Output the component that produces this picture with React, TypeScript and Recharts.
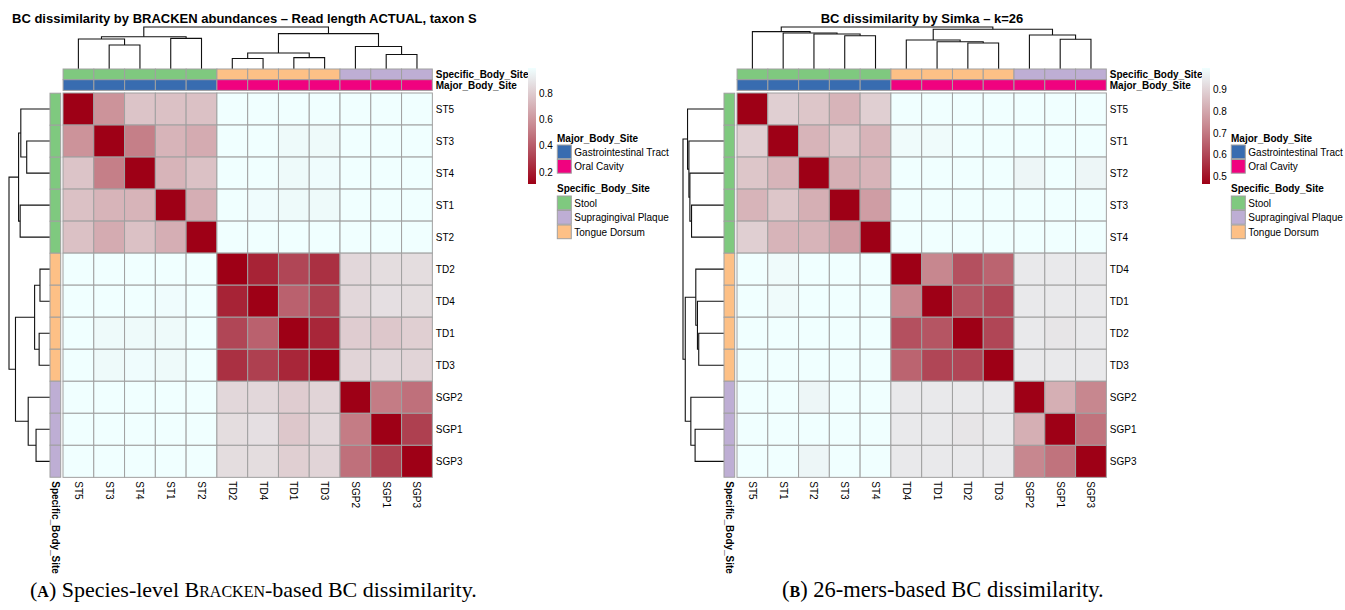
import React from 'react';
import { ScatterChart, Scatter, XAxis, YAxis, BarChart, Bar } from 'recharts';

// sample order (rows = columns) after clustering
const BRACKEN_ORDER = ['ST5', 'ST3', 'ST4', 'ST1', 'ST2', 'TD2', 'TD4', 'TD1', 'TD3', 'SGP2', 'SGP1', 'SGP3'];
const SIMKA_ORDER = ['ST5', 'ST1', 'ST2', 'ST3', 'ST4', 'TD4', 'TD1', 'TD2', 'TD3', 'SGP2', 'SGP1', 'SGP3'];

// BC dissimilarity
const BRACKEN_BC = [
  [0, 0.59, 0.77, 0.76, 0.76, 0.99, 0.99, 0.99, 0.99, 0.99, 0.99, 0.99],
  [0.59, 0, 0.52, 0.71, 0.68, 0.99, 0.99, 0.97, 0.97, 0.99, 0.99, 0.99],
  [0.77, 0.52, 0, 0.71, 0.76, 0.99, 0.99, 0.97, 0.98, 0.99, 0.99, 0.99],
  [0.76, 0.71, 0.71, 0, 0.69, 0.99, 0.98, 0.97, 0.97, 0.99, 0.99, 0.99],
  [0.76, 0.68, 0.76, 0.69, 0, 0.99, 0.99, 0.99, 0.99, 0.99, 0.99, 0.99],
  [0.99, 0.99, 0.99, 0.99, 0.99, 0, 0.22, 0.33, 0.26, 0.84, 0.86, 0.86],
  [0.99, 0.99, 0.99, 0.98, 0.99, 0.22, 0, 0.42, 0.31, 0.84, 0.87, 0.86],
  [0.99, 0.97, 0.97, 0.97, 0.99, 0.33, 0.42, 0, 0.23, 0.8, 0.78, 0.81],
  [0.99, 0.97, 0.98, 0.97, 0.99, 0.26, 0.31, 0.23, 0, 0.83, 0.84, 0.83],
  [0.99, 0.99, 0.99, 0.99, 0.99, 0.84, 0.84, 0.8, 0.83, 0, 0.51, 0.47],
  [0.99, 0.99, 0.99, 0.99, 0.99, 0.86, 0.87, 0.78, 0.84, 0.51, 0, 0.31],
  [0.99, 0.99, 0.99, 0.99, 0.99, 0.86, 0.86, 0.81, 0.83, 0.47, 0.31, 0],
];

const SIMKA_BC = [
  [0, 0.89, 0.87, 0.83, 0.89, 1, 1, 1, 1, 1, 1, 1],
  [0.89, 0, 0.83, 0.87, 0.83, 0.99, 0.99, 1, 1, 1, 1, 1],
  [0.87, 0.83, 0, 0.82, 0.83, 1, 1, 1, 1, 0.98, 1, 0.98],
  [0.83, 0.87, 0.82, 0, 0.78, 1, 1, 1, 1, 1, 1, 1],
  [0.89, 0.83, 0.83, 0.78, 0, 1, 1, 1, 1, 1, 1, 1],
  [1, 0.99, 1, 1, 1, 0, 0.73, 0.62, 0.66, 0.95, 0.95, 0.95],
  [1, 0.99, 1, 1, 1, 0.73, 0, 0.63, 0.6, 0.95, 0.95, 0.95],
  [1, 1, 1, 1, 1, 0.62, 0.63, 0, 0.6, 0.95, 0.94, 0.95],
  [1, 1, 1, 1, 1, 0.66, 0.6, 0.6, 0, 0.95, 0.95, 0.95],
  [1, 1, 0.98, 1, 1, 0.95, 0.95, 0.95, 0.95, 0, 0.82, 0.73],
  [1, 1, 1, 1, 1, 0.95, 0.95, 0.94, 0.95, 0.82, 0, 0.69],
  [1, 1, 0.98, 1, 1, 0.95, 0.95, 0.95, 0.95, 0.73, 0.69, 0],
];

// hclust merges: [left, right, height]; strings are samples, numbers earlier merges
const BRACKEN_TREE: [string | number, string | number, number][] = [
  ['ST3', 'ST4', 0.571],
  ['ST5', 0, 0.714],
  ['ST1', 'ST2', 0.73],
  [1, 2, 0.768],
  ['TD2', 'TD4', 0.25],
  ['TD1', 'TD3', 0.27],
  [4, 5, 0.38],
  ['SGP1', 'SGP3', 0.345],
  ['SGP2', 7, 0.535],
  [6, 8, 0.843],
  [3, 9, 1.0],
];

const SIMKA_TREE: [string | number, string | number, number][] = [
  ['ST3', 'ST4', 0.793],
  ['ST2', 0, 0.833],
  ['ST1', 1, 0.857],
  ['ST5', 2, 0.89],
  ['TD2', 'TD3', 0.619],
  ['TD1', 4, 0.65],
  ['TD4', 5, 0.69],
  ['SGP1', 'SGP3', 0.707],
  ['SGP2', 7, 0.81],
  [6, 8, 0.945],
  [3, 9, 1.0],
];

const BRACKEN_RANGE = [0.11, 0.99];
const SIMKA_RANGE = [0.466, 1.0];
const BRACKEN_TICKS = [0.2, 0.4, 0.6, 0.8];
const SIMKA_TICKS = [0.5, 0.6, 0.7, 0.8, 0.9];

const ANNOTATIONS = ['Specific_Body_Site', 'Major_Body_Site'];
const SPECIFIC_SITES = ['Stool', 'Supragingival Plaque', 'Tongue Dorsum'];
const MAJOR_SITES = ['Gastrointestinal Tract', 'Oral Cavity'];
const SITE_OF_PREFIX: Record<string, string> = { ST: 'Stool', TD: 'Tongue Dorsum', SGP: 'Supragingival Plaque' };
const MAJOR_OF_SITE: Record<string, string> = {
  Stool: 'Gastrointestinal Tract',
  'Tongue Dorsum': 'Oral Cavity',
  'Supragingival Plaque': 'Oral Cavity',
};

const SPECIFIC_COLORS: Record<string, string> = {
  Stool: '#7fc97f',
  'Supragingival Plaque': '#beaed4',
  'Tongue Dorsum': '#fdc086',
};
const MAJOR_COLORS: Record<string, string> = {
  'Gastrointestinal Tract': '#386cb0',
  'Oral Cavity': '#f0027f',
};

const RAMP: [number, string][] = [
  [0, '#9e0016'],
  [0.25, '#b04656'],
  [0.5, '#c88890'],
  [0.75, '#dcc4c8'],
  [0.9, '#e8e8ea'],
  [1, '#f0ffff'],
];

// layout, relative to a panel's left edge
const N = 12;
const FONT = '"Liberation Sans", Arial, sans-serif';
const GRID = '#a0a0a0';
const LABEL_SIZE = 10;
const HM_X = 63.3;
const HM_Y = 93.3;
const CELL_W = 30.78;
const CELL_H = 32.03;
const HM_W = CELL_W * N;
const HM_H = CELL_H * N;
const DENDRO_TOP = 27;
const ANN_Y = 69;
const ANN_H = 10.7;
const DENDRO_LEFT = 9;
const ROW_ANN_X = 50.3;
const ROW_ANN_W = 10.7;
const BAR_X = 528;
const BAR_Y = 68;
const BAR_W = 8;
const BAR_H = 116;
const LEG_X = 557.3;
const PANEL_B_X = 674;
const PAD = 2;
const PADS = { top: PAD, right: PAD, bottom: PAD, left: PAD };
const CENTERS = Array.from({ length: N }, (_, i) => i + 0.5);

const hex = (h: string) => [1, 3, 5].map((k) => parseInt(h.slice(k, k + 2), 16));

function rampColor(t: number) {
  const u = Math.max(0, Math.min(1, t));
  for (let k = 1; k < RAMP.length; k++) {
    const [t1, c1] = RAMP[k];
    const [t0, c0] = RAMP[k - 1];
    if (u <= t1) {
      const f = (u - t0) / (t1 - t0);
      const a = hex(c0);
      const b = hex(c1);
      const rgb = a.map((v, i) => Math.round(v + (b[i] - v) * f));
      return `rgb(${rgb.join(',')})`;
    }
  }
  return RAMP[RAMP.length - 1][1];
}

const siteOf = (s: string) => SITE_OF_PREFIX[s.replace(/\d+$/, '')];

// U-shaped segments of a dendrogram, position in leaf units, height in tree units
function treeSegments(tree: [string | number, string | number, number][], order: string[]) {
  const nodes: { p: number; h: number }[] = [];
  const get = (r: string | number) => (typeof r === 'string' ? { p: order.indexOf(r) + 0.5, h: 0 } : nodes[r]);
  return tree.map(([l, r, h], i) => {
    const a = get(l);
    const b = get(r);
    nodes[i] = { p: (a.p + b.p) / 2, h };
    return [
      { p: a.p, h: a.h },
      { p: a.p, h },
      { p: b.p, h },
      { p: b.p, h: b.h },
    ];
  });
}

const noDot = () => <g />;

function Abs({ left, top, children }: { left: number; top: number; children: React.ReactNode }) {
  return <div style={{ position: 'absolute', left, top }}>{children}</div>;
}

function Heatmap({ order, dist, range }: { order: string[]; dist: number[][]; range: number[] }) {
  const cells = dist.flatMap((row, i) => row.map((v, j) => ({ x: j + 0.5, y: i + 0.5, v })));
  const labR = 40;
  const labB = 50;
  return (
    <ScatterChart width={HM_W + 2 * PAD + labR} height={HM_H + 2 * PAD + labB} margin={PADS}>
      <XAxis
        type="number"
        dataKey="x"
        domain={[0, N]}
        ticks={CENTERS}
        interval={0}
        height={labB}
        axisLine={false}
        tickLine={false}
        tickSize={0}
        tick={(p: any) => {
          const y = p.y + 2;
          return (
            <text
              x={p.x}
              y={y}
              transform={`rotate(90 ${p.x} ${y})`}
              fontSize={LABEL_SIZE}
              fontFamily={FONT}
              dominantBaseline="central"
              textAnchor="start"
            >
              {order[Math.floor(p.payload.value)]}
            </text>
          );
        }}
      />
      <YAxis
        type="number"
        dataKey="y"
        domain={[0, N]}
        reversed
        orientation="right"
        width={labR}
        ticks={CENTERS}
        interval={0}
        axisLine={false}
        tickLine={false}
        tickSize={0}
        tick={(p: any) => (
          <text
            x={p.x + 1.5}
            y={p.y}
            fontSize={LABEL_SIZE}
            fontFamily={FONT}
            dominantBaseline="central"
            textAnchor="start"
          >
            {order[Math.floor(p.payload.value)]}
          </text>
        )}
      />
      <Scatter
        data={cells}
        isAnimationActive={false}
        shape={(p: any) => (
          <rect
            x={p.cx - CELL_W / 2}
            y={p.cy - CELL_H / 2}
            width={CELL_W}
            height={CELL_H}
            fill={rampColor((p.payload.v - range[0]) / (range[1] - range[0]))}
            stroke={GRID}
            strokeWidth={1}
          />
        )}
      />
    </ScatterChart>
  );
}

function TopDendro({ order, tree }: { order: string[]; tree: [string | number, string | number, number][] }) {
  const segs = treeSegments(tree, order);
  const maxH = Math.max(...tree.map((t) => t[2]));
  return (
    <ScatterChart width={HM_W + 2 * PAD} height={ANN_Y - DENDRO_TOP + 2 * PAD} margin={PADS}>
      <XAxis type="number" dataKey="x" domain={[0, N]} hide />
      <YAxis type="number" dataKey="y" domain={[0, maxH]} hide />
      {segs.map((s, k) => (
        <Scatter
          key={k}
          data={s.map((q) => ({ x: q.p, y: q.h }))}
          line={{ stroke: '#111', strokeWidth: 1.1 }}
          lineType="joint"
          shape={noDot}
          isAnimationActive={false}
        />
      ))}
    </ScatterChart>
  );
}

function LeftDendro({ order, tree }: { order: string[]; tree: [string | number, string | number, number][] }) {
  const segs = treeSegments(tree, order);
  const maxH = Math.max(...tree.map((t) => t[2]));
  return (
    <ScatterChart width={ROW_ANN_X - DENDRO_LEFT + 2 * PAD} height={HM_H + 2 * PAD} margin={PADS}>
      <XAxis type="number" dataKey="x" domain={[0, maxH]} reversed hide />
      <YAxis type="number" dataKey="y" domain={[0, N]} reversed hide />
      {segs.map((s, k) => (
        <Scatter
          key={k}
          data={s.map((q) => ({ x: q.h, y: q.p }))}
          line={{ stroke: '#111', strokeWidth: 1.1 }}
          lineType="joint"
          shape={noDot}
          isAnimationActive={false}
        />
      ))}
    </ScatterChart>
  );
}

function ColAnnotation({ order }: { order: string[] }) {
  const cells = order.flatMap((s, j) => [
    { x: j + 0.5, y: 0.5, c: SPECIFIC_COLORS[siteOf(s)] },
    { x: j + 0.5, y: 1.5, c: MAJOR_COLORS[MAJOR_OF_SITE[siteOf(s)]] },
  ]);
  const labR = 110;
  return (
    <ScatterChart width={HM_W + 2 * PAD + labR} height={2 * ANN_H + 2 * PAD} margin={PADS}>
      <XAxis type="number" dataKey="x" domain={[0, N]} hide />
      <YAxis
        type="number"
        dataKey="y"
        domain={[0, 2]}
        reversed
        orientation="right"
        width={labR}
        ticks={[0.5, 1.5]}
        interval={0}
        axisLine={false}
        tickLine={false}
        tickSize={0}
        tick={(p: any) => (
          <text
            x={p.x + 1.5}
            y={p.y}
            fontSize={10}
            fontWeight="bold"
            fontFamily={FONT}
            dominantBaseline="central"
            textAnchor="start"
          >
            {ANNOTATIONS[Math.floor(p.payload.value)]}
          </text>
        )}
      />
      <Scatter
        data={cells}
        isAnimationActive={false}
        shape={(p: any) => (
          <rect
            x={p.cx - CELL_W / 2}
            y={p.cy - ANN_H / 2}
            width={CELL_W}
            height={ANN_H}
            fill={p.payload.c}
            stroke={GRID}
            strokeWidth={1}
          />
        )}
      />
    </ScatterChart>
  );
}

function RowAnnotation({ order }: { order: string[] }) {
  const cells = order.map((s, i) => ({ x: 0.5, y: i + 0.5, c: SPECIFIC_COLORS[siteOf(s)] }));
  const labB = 110;
  return (
    <ScatterChart width={ROW_ANN_W + 2 * PAD} height={HM_H + 2 * PAD + labB} margin={PADS}>
      <XAxis
        type="number"
        dataKey="x"
        domain={[0, 1]}
        ticks={[0.5]}
        interval={0}
        height={labB}
        axisLine={false}
        tickLine={false}
        tickSize={0}
        tick={(p: any) => {
          const y = p.y + 2;
          return (
            <text
              x={p.x}
              y={y}
              transform={`rotate(90 ${p.x} ${y})`}
              fontSize={10}
              fontWeight="bold"
              fontFamily={FONT}
              dominantBaseline="central"
              textAnchor="start"
            >
              {ANNOTATIONS[0]}
            </text>
          );
        }}
      />
      <YAxis type="number" dataKey="y" domain={[0, N]} reversed hide />
      <Scatter
        data={cells}
        isAnimationActive={false}
        shape={(p: any) => (
          <rect
            x={p.cx - ROW_ANN_W / 2}
            y={p.cy - CELL_H / 2}
            width={ROW_ANN_W}
            height={CELL_H}
            fill={p.payload.c}
            stroke={GRID}
            strokeWidth={1}
          />
        )}
      />
    </ScatterChart>
  );
}

function ColorBar({ id, range, ticks }: { id: string; range: number[]; ticks: number[] }) {
  return (
    <BarChart
      width={BAR_W + 30}
      height={BAR_H + 12}
      data={[{ name: 'scale', span: range }]}
      margin={{ top: 6, right: 0, bottom: 6, left: 0 }}
      barCategoryGap={0}
    >
      <defs>
        <linearGradient id={id} x1="0" y1="1" x2="0" y2="0">
          {RAMP.map(([t, c]) => (
            <stop key={t} offset={t} stopColor={c} />
          ))}
        </linearGradient>
      </defs>
      <XAxis dataKey="name" hide />
      <YAxis
        type="number"
        domain={range}
        ticks={ticks}
        interval={0}
        orientation="right"
        width={30}
        axisLine={false}
        tickLine={false}
        tickSize={0}
        tickMargin={3}
        tick={{ fontSize: 10, fill: '#000', fontFamily: FONT }}
      />
      <Bar dataKey="span" fill={`url(#${id})`} isAnimationActive={false} />
    </BarChart>
  );
}

function Panel(props: {
  x0: number;
  id: string;
  order: string[];
  dist: number[][];
  tree: [string | number, string | number, number][];
  range: number[];
  ticks: number[];
}) {
  const { x0, id, order, dist, tree, range, ticks } = props;
  return (
    <>
      <Abs left={x0 + HM_X - PAD} top={DENDRO_TOP - PAD}>
        <TopDendro order={order} tree={tree} />
      </Abs>
      <Abs left={x0 + DENDRO_LEFT - PAD} top={HM_Y - PAD}>
        <LeftDendro order={order} tree={tree} />
      </Abs>
      <Abs left={x0 + HM_X - PAD} top={ANN_Y - PAD}>
        <ColAnnotation order={order} />
      </Abs>
      <Abs left={x0 + ROW_ANN_X - PAD} top={HM_Y - PAD}>
        <RowAnnotation order={order} />
      </Abs>
      <Abs left={x0 + HM_X - PAD} top={HM_Y - PAD}>
        <Heatmap order={order} dist={dist} range={range} />
      </Abs>
      <Abs left={x0 + BAR_X} top={BAR_Y - 6}>
        <ColorBar id={id} range={range} ticks={ticks} />
      </Abs>
    </>
  );
}

function Legend({ x0 }: { x0: number }) {
  const sw = 14;
  const pitch = 14.5;
  const item = (label: string, color: string, top: number) => (
    <g key={label}>
      <rect x={x0 + LEG_X} y={top} width={sw} height={pitch - 0.8} fill={color} stroke={GRID} strokeWidth={1} />
      <text x={x0 + LEG_X + sw + 3} y={top + pitch / 2 + 3.3} fontSize={10} fontFamily={FONT}>
        {label}
      </text>
    </g>
  );
  return (
    <g>
      <text x={x0 + LEG_X - 0.3} y={141.5} fontSize={10} fontWeight="bold" fontFamily={FONT}>
        {ANNOTATIONS[1]}
      </text>
      {MAJOR_SITES.map((s, k) => item(s, MAJOR_COLORS[s], 145 + k * pitch))}
      <text x={x0 + LEG_X - 0.3} y={192.3} fontSize={10} fontWeight="bold" fontFamily={FONT}>
        {ANNOTATIONS[0]}
      </text>
      {SPECIFIC_SITES.map((s, k) => item(s, SPECIFIC_COLORS[s], 196 + k * pitch))}
    </g>
  );
}

export default function App() {
  const serif = '"Liberation Serif", "Times New Roman", serif';
  return (
    <div
      style={{
        position: 'absolute',
        left: 0,
        top: 0,
        width: 1345,
        height: 610,
        background: '#fff',
        fontFamily: FONT,
        overflow: 'hidden',
      }}
    >
      <Panel
        x0={0}
        id="grad-bracken"
        order={BRACKEN_ORDER}
        dist={BRACKEN_BC}
        tree={BRACKEN_TREE}
        range={BRACKEN_RANGE}
        ticks={BRACKEN_TICKS}
      />
      <Panel
        x0={PANEL_B_X}
        id="grad-simka"
        order={SIMKA_ORDER}
        dist={SIMKA_BC}
        tree={SIMKA_TREE}
        range={SIMKA_RANGE}
        ticks={SIMKA_TICKS}
      />
      <svg width={1345} height={610} style={{ position: 'absolute', left: 0, top: 0, pointerEvents: 'none' }}>
        <text x={12} y={22.5} fontSize={13} fontWeight="bold" fontFamily={FONT}>
          BC dissimilarity by BRACKEN abundances – Read length ACTUAL, taxon S
        </text>
        <text
          x={PANEL_B_X + HM_X + HM_W / 2}
          y={22.5}
          fontSize={13}
          fontWeight="bold"
          fontFamily={FONT}
          textAnchor="middle"
        >
          BC dissimilarity by Simka – k=26
        </text>
        <Legend x0={0} />
        <Legend x0={PANEL_B_X} />
        <text x={30} y={597} fontSize={22} fontFamily={serif}>
          (<tspan fontWeight="bold" fontSize={16}>A</tspan>) Species-level B<tspan fontSize={16}>RACKEN</tspan>-based BC
          dissimilarity.
        </text>
        <text x={782} y={597} fontSize={22.5} fontFamily={serif}>
          (<tspan fontWeight="bold" fontSize={16}>B</tspan>) 26-mers-based BC dissimilarity.
        </text>
      </svg>
    </div>
  );
}
